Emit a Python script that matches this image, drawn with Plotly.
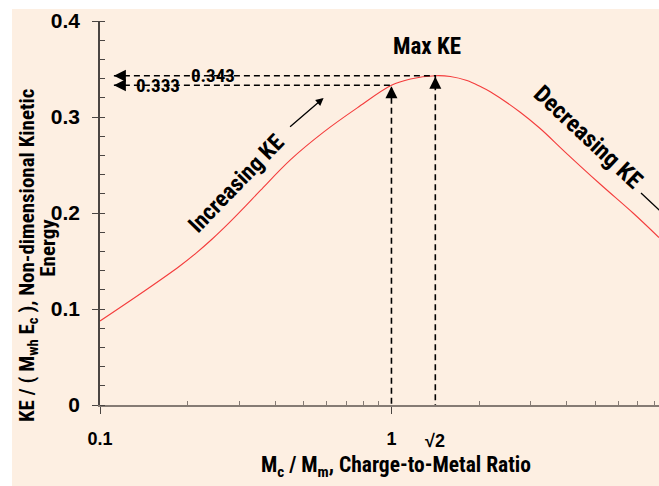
import math
import plotly.graph_objects as go

# Charge-to-metal ratio and non-dimensional kinetic energy
ratio = [0.1, 0.1437, 0.1869, 0.2132, 0.2432, 0.2772, 0.3162, 0.3558, 0.4509,
         0.5863, 0.7632, 1.0, 1.162, 1.414, 1.592, 1.816, 2.018, 2.183, 2.766,
         3.238, 3.944, 5.197, 6.743, 8.277]
ke = [0.0875, 0.1198, 0.1443, 0.158, 0.1732, 0.1897, 0.2074, 0.2238, 0.2556,
      0.2845, 0.3095, 0.333, 0.3395, 0.343, 0.3422, 0.338, 0.3318, 0.3264, 0.305,
      0.288, 0.2635, 0.2302, 0.2, 0.1745]

# Marked points: equal masses and the optimum ratio
mark_x = [1.0, math.sqrt(2)]
mark_y = [0.333, 0.343]
mark_text = ["0.333", "0.343"]

x_ticks = [0.1, 1]
x_tick_text = ["0.1", "1"]
x_minor = [0.2, 0.3, 0.4, 0.5, 0.6, 0.7, 0.8, 0.9, 2, 3, 4, 5, 6, 7, 8, 9]
y_ticks = [0, 0.1, 0.2, 0.3, 0.4]
y_tick_text = ["0", "0.1", "0.2", "0.3", "0.4"]

BG = "#FDEFE2"
AX_X = "#857b74"
AX_Y = "#4a4542"
FONT = "Roboto Condensed, Liberation Sans, Arial, sans-serif"
TICK_FONT = "Liberation Sans, Arial, sans-serif"
X_LEFT = 0.1116  # where the leader arrows end, near the y axis
XR = [-1, 0.918]


def bold(s):
    return "<b>" + s + "</b>"


fig = go.Figure()

fig.add_trace(go.Scatter(
    x=ratio, y=ke, mode="lines",
    line=dict(color="#F43C3C", width=1.1, shape="spline", smoothing=1.0),
    hoverinfo="skip", showlegend=False))

# Dashed leader lines from the marked points to both axes
for mx, my in zip(mark_x, mark_y):
    fig.add_trace(go.Scatter(
        x=[X_LEFT, mx, mx], y=[my, my, 0], mode="lines",
        line=dict(color="black", width=1.6, dash="6px,4px"),
        hoverinfo="skip", showlegend=False))

annotations = []
# arrowheads at the ends of the leader lines
for mx, my in zip(mark_x, mark_y):
    annotations.append(dict(x=math.log10(X_LEFT), y=my, ax=12, ay=0, text="",
                            showarrow=True, arrowhead=2, arrowsize=1.6, arrowwidth=1.5,
                            arrowcolor="black"))
    annotations.append(dict(x=math.log10(mx), y=my - 0.001, ax=0, ay=12, text="",
                            showarrow=True, arrowhead=2, arrowsize=1.6, arrowwidth=1.5,
                            arrowcolor="black"))

label_x = [0.158, 0.2438]
for lx, my, t in zip(label_x, mark_y, mark_text):
    annotations.append(dict(x=math.log10(lx), y=my, text=bold(t), showarrow=False,
                            font=dict(family=FONT, size=19, color="black")))

annotations.append(dict(x=math.log10(1.328), y=0.373, text=bold("Max KE"), showarrow=False,
                        font=dict(family=FONT, size=23, color="black")))

annotations.append(dict(x=math.log10(0.2934), y=0.231, text=bold("Increasing KE"), showarrow=False,
                        textangle=-46, font=dict(family=FONT, size=23, color="black")))
annotations.append(dict(x=math.log10(0.585), y=0.3198, ax=-35, ay=30, text="",
                        showarrow=True, arrowhead=2, arrowsize=1.2, arrowwidth=1.3,
                        arrowcolor="black"))

annotations.append(dict(x=math.log10(4.728), y=0.279, text=bold("Decreasing KE"), showarrow=False,
                        textangle=43, font=dict(family=FONT, size=24, color="black")))

annotations.append(dict(x=math.log10(math.sqrt(2)), y=0, yshift=-36, text=bold("√2"),
                        xanchor="center", yanchor="middle",
                        showarrow=False, font=dict(family=TICK_FONT, size=18, color="black")))

# axis titles
annotations.append(dict(xref="paper", yref="paper", x=-0.1288, y=0.3906, textangle=-90,
                        xanchor="center", yanchor="middle",
                        text=bold("KE / ( M<sub>wh</sub> E<sub>c</sub> ), Non-dimensional Kinetic"),
                        showarrow=False, font=dict(family=FONT, size=21, color="black")))
annotations.append(dict(xref="paper", yref="paper", x=-0.0935, y=0.4089, textangle=-90,
                        xanchor="center", yanchor="middle",
                        text=bold("Energy"), showarrow=False,
                        font=dict(family=FONT, size=21, color="black")))
annotations.append(dict(xref="paper", yref="paper", x=0.5295, y=-0.159,
                        xanchor="center", yanchor="middle",
                        text=bold("M<sub>c</sub> / M<sub>m</sub>, Charge-to-Metal Ratio"),
                        showarrow=False, font=dict(family=FONT, size=21.5, color="black")))

fig.update_layout(
    width=659, height=486,
    margin=dict(l=100, r=0, t=21, b=81),
    paper_bgcolor="white", plot_bgcolor="rgba(0,0,0,0)",
    showlegend=False,
    annotations=annotations,
    shapes=[
        dict(type="rect", xref="paper", yref="paper", x0=-0.1574, x1=1.02, y0=-0.22, y1=1.03125,
             fillcolor=BG, line=dict(width=0), layer="below"),
        # tail of the "Decreasing KE" arrow running off the right edge
        dict(type="line", xref="paper", yref="paper",
             x0=(641 - 100) / 559, y0=(405 - 193) / 384, x1=(672 - 100) / 559, y1=(405 - 222) / 384,
             line=dict(color="black", width=1.3)),
    ],
    xaxis=dict(type="log", range=XR, showgrid=False, zeroline=False,
               showline=True, linecolor=AX_X, linewidth=1.5,
               tickmode="array", tickvals=x_ticks, ticktext=x_tick_text,
               ticks="outside", ticklen=7, tickcolor=AX_Y, tickwidth=1.3,
               ticklabelstandoff=10,
               tickfont=dict(family=TICK_FONT, size=18, color="black", weight="bold"),
               minor=dict(tickmode="array", tickvals=x_minor, ticks="inside",
                          ticklen=4, tickcolor=AX_X, tickwidth=1.2, showgrid=False)),
    yaxis=dict(range=[0, 0.4], showgrid=False, zeroline=False,
               showline=True, linecolor=AX_Y, linewidth=1.5,
               tickmode="array", tickvals=y_ticks, ticktext=y_tick_text,
               ticks="outside", ticklen=6, tickcolor=AX_Y, tickwidth=1.3,
               ticklabelstandoff=8,
               tickfont=dict(family=TICK_FONT, size=21, color="black", weight="bold"),
               minor=dict(dtick=0.02, tick0=0, ticks="inside", ticklen=5,
                          tickcolor=AX_Y, tickwidth=1.2, showgrid=False)),
)

fig.write_html("out.html")
